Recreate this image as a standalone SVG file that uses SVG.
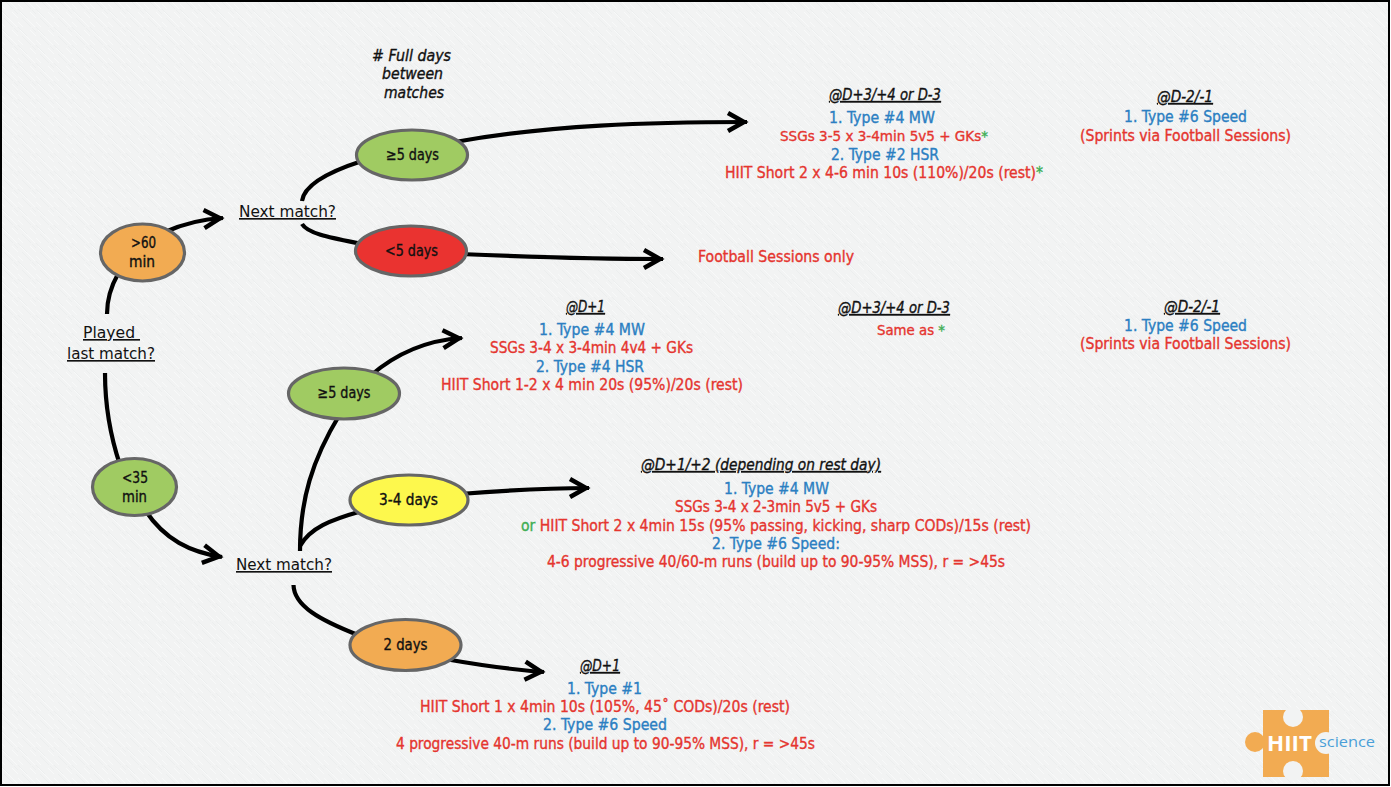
<svg xmlns="http://www.w3.org/2000/svg" width="1391" height="787" viewBox="0 0 1391 787">
<style>
text{font-family:"DejaVu Sans Condensed","DejaVu Sans","Noto Sans",sans-serif;font-size:15.500px;fill:#111;stroke:#111;stroke-width:.35px}
.r{fill:#e5352f;stroke:#e5352f}.b{fill:#2b7fc2;stroke:#2b7fc2}.g{fill:#3fae55;stroke:#3fae55}
.h{font-style:italic;text-decoration:underline}
.i{font-style:italic}
.u{text-decoration:underline;font-size:16.500px;stroke-width:0}
.s{font-size:14.500px}
.n{stroke:#666;stroke-width:3.200}
.c{fill:none;stroke:#000;stroke-width:4.200}
.a{fill:none;stroke:#000;stroke-width:4.200;marker-end:url(#ah)}
.o{fill:#f2ab52}.gr{fill:#a0cb62}.re{fill:#ea3330}.y{fill:#fdf84d}
</style>
<defs>
<marker id="ah" markerUnits="userSpaceOnUse" markerWidth="24" markerHeight="24" refX="21" refY="12" orient="auto" overflow="visible">
<path d="M2 3 L18 12 L2 21" fill="none" stroke="#000" stroke-width="4.500"/>
</marker>
<pattern id="tex" width="18" height="18" patternUnits="userSpaceOnUse">
<path d="M0 4L5 9M8 0L17 9M2 12L8 18M12 12L18 18" stroke="#f8f9f9" stroke-width="1" fill="none"/>
<path d="M4 0L13 9M0 9L9 18M14 10L18 14" stroke="#eceeee" stroke-width="1" fill="none"/>
</pattern>
</defs>
<rect width="1391" height="787" fill="#fff"/>
<rect x="1" y="1" width="1388" height="784" fill="#f2f3f3"/>
<rect x="1" y="1" width="1388" height="784" fill="url(#tex)" stroke="#000" stroke-width="2"/>

<g id="connectors">
<path class="c" d="M107 314C107 300 110 288 118 274"/>
<path class="a" d="M165 232C187 222 205 219 223 218"/>
<path class="c" d="M302 201C304 185 328 172 362 161"/>
<path class="c" d="M302 224C308 234 332 238 362 244"/>
<path class="a" d="M455 142C550 125 650 122 747 122"/>
<path class="a" d="M460 254C530 257 600 259 663 259"/>
<path class="a" d="M370 376C400 350 430 340 462 338"/>
<path class="c" d="M105 373C105 405 110 435 120 465"/>
<path class="a" d="M145 510C165 540 190 552 222 557"/>
<path class="c" d="M300 551C300 500 312 460 340 414"/>
<path class="c" d="M300 546C310 528 330 520 362 511"/>
<path class="a" d="M460 494C510 490 550 488 589 488"/>
<path class="c" d="M293.500 585C294 606 320 620 358 635"/>
<path class="a" d="M445 659C485 666 515 670 544 672"/>
</g>

<g id="n-played"><text x="83" y="338" class="u" textLength="57" lengthAdjust="spacingAndGlyphs">Played&#160;</text><text x="67" y="359" class="u" textLength="88" lengthAdjust="spacingAndGlyphs">last match?</text></g>
<g id="n-gt60"><ellipse class="n o" cx="142.500" cy="252.500" rx="42" ry="28.500"/><text x="131" y="248" textLength="25" lengthAdjust="spacingAndGlyphs">&gt;60</text><text x="129" y="267" textLength="26" lengthAdjust="spacingAndGlyphs">min</text></g>
<g id="n-next1"><text x="239" y="217" class="u" textLength="97" lengthAdjust="spacingAndGlyphs">Next match?</text></g>
<g id="n-ge5a"><ellipse class="n gr" cx="412" cy="155" rx="55.500" ry="25"/><text x="386" y="160" textLength="53" lengthAdjust="spacingAndGlyphs">≥5 days</text></g>
<g id="n-lt5"><ellipse class="n re" cx="411" cy="251" rx="55.500" ry="25"/><text x="385" y="256" textLength="53" lengthAdjust="spacingAndGlyphs">&lt;5 days</text></g>
<g id="n-lt35"><ellipse class="n gr" cx="134.500" cy="487" rx="42" ry="28.500"/><text x="122" y="483" textLength="26" lengthAdjust="spacingAndGlyphs">&lt;35</text><text x="122" y="502" textLength="25" lengthAdjust="spacingAndGlyphs">min</text></g>
<g id="n-next2"><text x="236" y="570" class="u" textLength="96" lengthAdjust="spacingAndGlyphs">Next match?</text></g>
<g id="n-ge5b"><ellipse class="n gr" cx="344" cy="393.500" rx="55.500" ry="25.500"/><text x="317.500" y="398" textLength="53" lengthAdjust="spacingAndGlyphs">≥5 days</text></g>
<g id="n-34"><ellipse class="n y" cx="409" cy="500" rx="59" ry="25"/><text x="379" y="505" textLength="59" lengthAdjust="spacingAndGlyphs">3-4 days</text></g>
<g id="n-2"><ellipse class="n o" cx="405.500" cy="645" rx="55.500" ry="25.500"/><text x="383.500" y="650" textLength="44" lengthAdjust="spacingAndGlyphs">2 days</text></g>

<g id="label-full-days">
<text x="372" y="61" class="i" textLength="79" lengthAdjust="spacingAndGlyphs"># Full days</text>
<text x="382" y="79" class="i" textLength="61" lengthAdjust="spacingAndGlyphs">between</text>
<text x="384" y="98" class="i" textLength="60" lengthAdjust="spacingAndGlyphs">matches</text>
</g>

<g id="plan-a">
<text x="829" y="100" class="h" textLength="112" lengthAdjust="spacingAndGlyphs">@D+3/+4 or D-3</text>
<text x="829" y="123" class="b" textLength="106" lengthAdjust="spacingAndGlyphs">1. Type #4 MW</text>
<text x="780" y="141" class="r s" textLength="208" lengthAdjust="spacingAndGlyphs">SSGs 3-5 x 3-4min 5v5 + GKs<tspan class="g">*</tspan></text>
<text x="831" y="160" class="b" textLength="108" lengthAdjust="spacingAndGlyphs">2. Type #2 HSR</text>
<text x="725" y="178" class="r" textLength="318" lengthAdjust="spacingAndGlyphs">HIIT Short 2 x 4-6 min 10s (110%)/20s (rest)<tspan class="g">*</tspan></text>
</g>
<g id="plan-b">
<text x="1157" y="102" class="h" textLength="56" lengthAdjust="spacingAndGlyphs">@D-2/-1</text>
<text x="1124" y="122" class="b" textLength="123" lengthAdjust="spacingAndGlyphs">1. Type #6 Speed</text>
<text x="1080" y="141" class="r" textLength="211" lengthAdjust="spacingAndGlyphs">(Sprints via Football Sessions)</text>
</g>
<g id="plan-c"><text x="698" y="262" class="r" textLength="156" lengthAdjust="spacingAndGlyphs">Football Sessions only</text></g>
<g id="plan-d">
<text x="566" y="312" class="h" textLength="39" lengthAdjust="spacingAndGlyphs">@D+1</text>
<text x="539" y="335" class="b" textLength="106" lengthAdjust="spacingAndGlyphs">1. Type #4 MW</text>
<text x="490" y="353" class="r" textLength="203" lengthAdjust="spacingAndGlyphs">SSGs 3-4 x 3-4min 4v4 + GKs</text>
<text x="536" y="372" class="b" textLength="108" lengthAdjust="spacingAndGlyphs">2. Type #4 HSR</text>
<text x="441" y="390" class="r" textLength="302" lengthAdjust="spacingAndGlyphs">HIIT Short 1-2 x 4 min 20s (95%)/20s (rest)</text>
</g>
<g id="plan-e">
<text x="838" y="313" class="h" textLength="112" lengthAdjust="spacingAndGlyphs">@D+3/+4 or D-3</text>
<text x="877" y="335" class="r s" textLength="68" lengthAdjust="spacingAndGlyphs">Same as <tspan class="g">*</tspan></text>
</g>
<g id="plan-f">
<text x="1164" y="312" class="h" textLength="56" lengthAdjust="spacingAndGlyphs">@D-2/-1</text>
<text x="1124" y="331" class="b" textLength="123" lengthAdjust="spacingAndGlyphs">1. Type #6 Speed</text>
<text x="1080" y="349" class="r" textLength="211" lengthAdjust="spacingAndGlyphs">(Sprints via Football Sessions)</text>
</g>
<g id="plan-g">
<text x="641" y="470" class="h" textLength="240" lengthAdjust="spacingAndGlyphs">@D+1/+2 (depending on rest day)</text>
<text x="724" y="494" class="b" textLength="105" lengthAdjust="spacingAndGlyphs">1. Type #4 MW</text>
<text x="675" y="512" class="r" textLength="202" lengthAdjust="spacingAndGlyphs">SSGs 3-4 x 2-3min 5v5 + GKs</text>
<text x="521" y="531" class="r" textLength="510" lengthAdjust="spacingAndGlyphs"><tspan class="g">or</tspan> HIIT Short 2 x 4min 15s (95% passing, kicking, sharp CODs)/15s (rest)</text>
<text x="712" y="549" class="b" textLength="128" lengthAdjust="spacingAndGlyphs">2. Type #6 Speed:</text>
<text x="547" y="567" class="r" textLength="458" lengthAdjust="spacingAndGlyphs">4-6 progressive 40/60-m runs (build up to 90-95% MSS), r = &gt;45s</text>
</g>
<g id="plan-h">
<text x="580" y="671" class="h" textLength="40" lengthAdjust="spacingAndGlyphs">@D+1</text>
<text x="567" y="694" class="b" textLength="75" lengthAdjust="spacingAndGlyphs">1. Type #1</text>
<text x="420" y="712" class="r" textLength="370" lengthAdjust="spacingAndGlyphs">HIIT Short 1 x 4min 10s (105%, 45˚ CODs)/20s (rest)</text>
<text x="543" y="730" class="b" textLength="124" lengthAdjust="spacingAndGlyphs">2. Type #6 Speed</text>
<text x="396" y="749" class="r" textLength="419" lengthAdjust="spacingAndGlyphs">4 progressive 40-m runs (build up to 90-95% MSS), r = &gt;45s</text>
</g>

<g id="logo">
<rect x="1263" y="710" width="66" height="67" fill="#f2ab52"/>
<circle cx="1255" cy="742" r="10" fill="#f2ab52"/>
<circle cx="1293" cy="717" r="10" fill="#f2f3f3"/>
<circle cx="1293" cy="771" r="10" fill="#f2f3f3"/>
<circle cx="1326" cy="743" r="11" fill="#f2f3f3"/>
<text x="1267" y="751" textLength="45" lengthAdjust="spacingAndGlyphs" style="font-family:'Open Sans',sans-serif;font-weight:700;font-size:21px;fill:#fff;stroke:none">HIIT</text>
<text x="1319" y="747" textLength="56" lengthAdjust="spacingAndGlyphs" style="font-family:'Open Sans',sans-serif;font-size:15px;fill:#4a9fd8;stroke:none">science</text>
</g>
</svg>
